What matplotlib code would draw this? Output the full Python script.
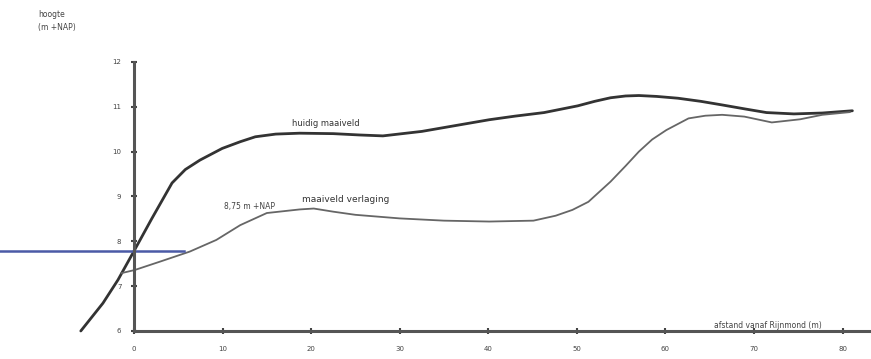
import numpy as np
import matplotlib
matplotlib.use("Agg")
import matplotlib.pyplot as plt

# huidig maaiveld (bovenste lijn)
top_x = [-6.0, -3.5, -1.8, 0.0, 2.0, 4.3, 5.8, 7.45, 9.96, 12.0, 13.7, 16.0, 18.7,
         22.5, 25.5, 28.1, 32.5, 36.0, 40.1, 43.0, 46.3, 50.1, 52.0, 53.8, 55.5,
         57.0, 59.0, 61.4, 64.0, 66.4, 69.0, 71.4, 74.5, 77.7, 81.1]
top_y = [6.00, 6.62, 7.14, 7.78, 8.50, 9.30, 9.60, 9.81, 10.07, 10.22, 10.33, 10.39, 10.41,
         10.40, 10.37, 10.35, 10.45, 10.57, 10.71, 10.79, 10.87, 11.02, 11.12, 11.20, 11.24,
         11.25, 11.23, 11.19, 11.12, 11.04, 10.95, 10.87, 10.84, 10.86, 10.91]

# maaiveld verlaging (onderste lijn)
low_x = [-1.4, 0.1, 3.0, 6.3, 9.3, 12.0, 15.0, 18.7, 20.3, 22.5, 25.0, 30.0, 35.0,
         40.1, 45.1, 47.6, 49.5, 51.3, 53.8, 55.5, 57.0, 58.5, 60.1, 62.6, 64.5,
         66.4, 68.9, 72.0, 75.2, 77.7, 80.8]
low_y = [7.29, 7.36, 7.55, 7.77, 8.03, 8.36, 8.63, 8.71, 8.73, 8.66, 8.59, 8.51, 8.46,
         8.44, 8.46, 8.57, 8.70, 8.88, 9.33, 9.68, 10.00, 10.27, 10.48, 10.74, 10.80,
         10.82, 10.78, 10.65, 10.72, 10.82, 10.88]

# horizontale peillijn
level_x = [-15.2, 5.7]
level_y = [7.78, 7.78]

x_ticks = [0, 10, 20, 30, 40, 50, 60, 70, 80]
y_ticks = [6, 7, 8, 9, 10, 11, 12]

fig = plt.figure(figsize=(8.71, 3.59), dpi=100)
ax = fig.add_axes([0, 0, 1, 1])
ax.set_xlim(-15.12, 83.2)
ax.set_ylim(5.375, 13.38)

ax.plot(top_x, top_y, color="#333333", lw=2.0, solid_capstyle="round")
ax.plot(low_x, low_y, color="#666666", lw=1.3)
ax.plot(level_x, level_y, color="#4b5aa6", lw=1.8)

for s in ["top", "right"]:
    ax.spines[s].set_visible(False)
ax.spines["left"].set_position(("data", 0))
ax.spines["bottom"].set_position(("data", 6))
ax.spines["left"].set_bounds(6, 12)
ax.spines["bottom"].set_bounds(0, 83.2)
for s in ["left", "bottom"]:
    ax.spines[s].set_color("#555555")
    ax.spines[s].set_linewidth(2.2)

ax.set_xticks(x_ticks)
ax.set_yticks(y_ticks)
ax.tick_params(axis="both", direction="inout", length=4, width=1.5, color="#444444",
               labelsize=5, labelcolor="#444444")
ax.tick_params(axis="x", pad=9)
ax.tick_params(axis="y", pad=7)

# teksten in figuurpixels (y vanaf onderkant)
H = 359
ax.annotate("hoogte\n(m +NAP)", xy=(38, H - 10), xycoords="figure pixels",
            fontsize=5.5, color="#444444", ha="left", va="top", linespacing=1.6)
ax.annotate("huidig maaiveld", xy=(326, H - 124), xycoords="figure pixels",
            fontsize=6, color="#333333", ha="center", va="center")
ax.annotate("maaiveld verlaging", xy=(346, H - 199), xycoords="figure pixels",
            fontsize=6.5, color="#333333", ha="center", va="center")
ax.annotate("8,75 m +NAP", xy=(250, H - 206), xycoords="figure pixels",
            fontsize=5.5, color="#444444", ha="center", va="center")
ax.annotate("afstand vanaf Rijnmond (m)", xy=(768, H - 325), xycoords="figure pixels",
            fontsize=5.5, color="#444444", ha="center", va="center")

fig.savefig("out.png", dpi=100)
